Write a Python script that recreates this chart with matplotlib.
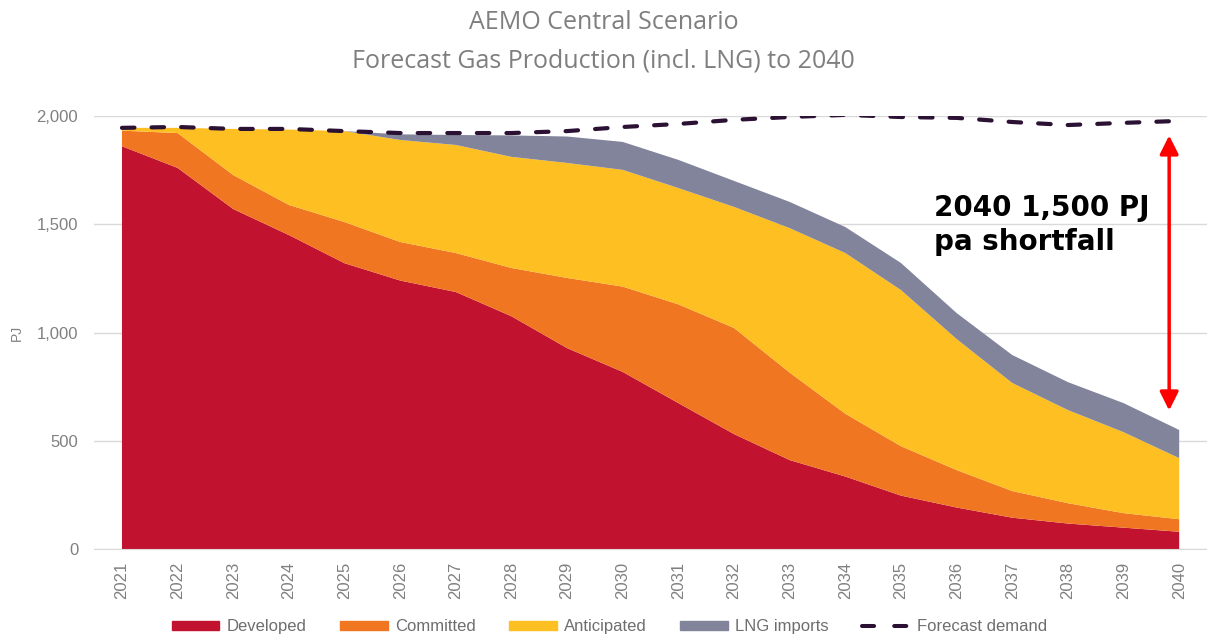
import matplotlib
matplotlib.use("Agg")
import matplotlib.pyplot as plt
from matplotlib.patches import Patch
from matplotlib.lines import Line2D
import numpy as np

years = list(range(2021, 2041))
developed = [1860, 1760, 1570, 1450, 1320, 1240, 1187, 1075, 928, 818,
             674, 531, 411, 335, 247, 192, 145, 118, 99, 80]
committed = [72, 161, 157, 139, 190, 178, 180, 223, 324, 394,
             456, 490, 404, 290, 228, 173, 123, 94, 67, 58]
anticipated = [13, 24, 213, 348, 420, 471, 499, 513, 531, 539,
               537, 559, 667, 742, 721, 605, 499, 430, 374, 282]
lng_imports = [0, 0, 0, 0, 0, 26, 46, 99, 122, 129,
               130, 120, 121, 120, 125, 120, 129, 129, 134, 130]
demand = [1945, 1949, 1940, 1940, 1930, 1921, 1921, 1921, 1930, 1949,
          1963, 1982, 1995, 2005, 1995, 1991, 1972, 1958, 1968, 1977]

series_labels = ["Developed", "Committed", "Anticipated", "LNG imports"]
colors = ["#C1122F", "#F07622", "#FDBF22", "#81849A"]
demand_color = "#2B1133"
yticks = [0, 500, 1000, 1500, 2000]
tick_color = "#808080"

fig = plt.figure(figsize=(12.07, 6.37), dpi=100)
ax = fig.add_axes([0.078, 0.138, 0.922, 0.680])

ax.stackplot(years, developed, committed, anticipated, lng_imports,
             colors=colors, labels=series_labels, linewidth=0)
ax.plot(years, demand, color=demand_color, lw=3.0, ls=(0, (3.0, 4.1)),
        dash_capstyle="round", solid_capstyle="round", zorder=5)

ax.set_xlim(2020.5, 2040.5)
ax.set_ylim(0, 2000)
ax.set_yticks(yticks)
ax.set_yticklabels([f"{v:,}" for v in yticks])
ax.set_xticks(years)
ax.set_xticklabels([str(y) for y in years], rotation=90)
ax.grid(axis="y", color="#D9D9D9", lw=1)
ax.set_axisbelow(True)
for s in ["top", "right", "left"]:
    ax.spines[s].set_visible(False)
ax.spines["bottom"].set_color("#D9D9D9")
ax.tick_params(axis="both", length=0, colors=tick_color, labelsize=12)
ax.tick_params(axis="x", pad=9)
ax.tick_params(axis="y", pad=11.5)
for lbl in ax.get_xticklabels() + ax.get_yticklabels():
    lbl.set_fontfamily("Liberation Sans")
ax.set_ylabel("PJ", color=tick_color, fontsize=10, family="Liberation Sans", labelpad=9)

fig.text(0.5, 0.965, "AEMO Central Scenario", ha="center", va="center",
         fontsize=18, color="#7F7F7F", family="Open Sans")
fig.text(0.5, 0.905, "Forecast Gas Production (incl. LNG) to 2040", ha="center",
         va="center", fontsize=18, color="#7F7F7F", family="Open Sans")

# shortfall annotation
ax.annotate("", xy=(2039.82, 640), xytext=(2039.82, 1910),
            arrowprops=dict(arrowstyle="<|-|>", color="#FF0000", lw=2.5,
                            mutation_scale=28, shrinkA=0, shrinkB=0))
ax.text(2035.6, 1538, "2040 1,500 PJ", fontsize=20, fontweight="bold",
        color="black", family="DejaVu Sans", va="baseline", ha="left")
ax.text(2035.6, 1381, "pa shortfall", fontsize=20, fontweight="bold",
        color="black", family="DejaVu Sans", va="baseline", ha="left")

handles = [Patch(color=c, label=l) for c, l in zip(colors, series_labels)]
handles.append(Line2D([0], [0], color=demand_color, lw=2.9, ls=(0, (3, 5)),
                      dash_capstyle="round", label="Forecast demand"))
leg = fig.legend(handles=handles, loc="center", bbox_to_anchor=(0.505, 0.016),
                 ncol=5, frameon=False, handlelength=2.85,
                 handleheight=0.45, columnspacing=2.0, handletextpad=0.45,
                 prop={"family": "Liberation Sans", "size": 12})
for t in leg.get_texts():
    t.set_color("#6E6E6E")

fig.savefig("out.png", dpi=100)
